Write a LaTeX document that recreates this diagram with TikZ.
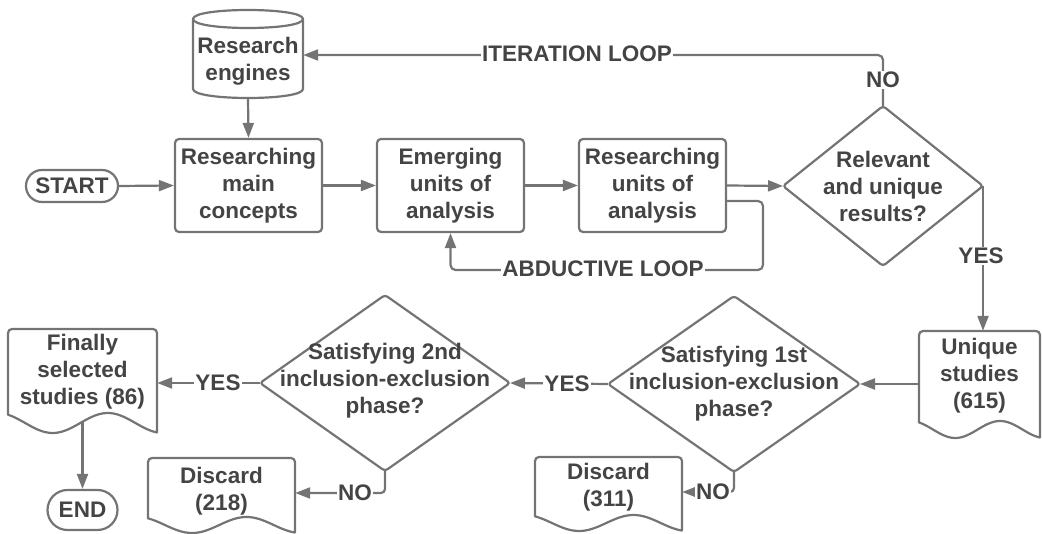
\documentclass[tikz,border=0pt]{standalone}
\usepackage{fontspec}
\setmainfont{Liberation Sans}
\usetikzlibrary{arrows.meta,shapes.misc}
\definecolor{ln}{HTML}{747474}
\definecolor{tx}{HTML}{444444}
\tikzset{
 every node/.style={font=\bfseries\fontsize{22.5}{27}\selectfont, text=tx, align=center},
 shp/.style={draw=ln, line width=2.2pt, line join=round},
 box/.style={shp, rounded corners=4pt, minimum width=147pt, minimum height=93pt, inner sep=0pt},
 term/.style={shp, rounded rectangle, inner sep=0pt},
 arr/.style={draw=ln, line width=2.2pt, -{Triangle[length=15pt,width=11pt]}},
 lab/.style={fill=white, inner sep=1pt},
 txt/.style={inner sep=0pt}
}
\newcommand\docshape[5]{\draw[shp] (#1,{#4-0.828*#5}) [rounded corners=4pt] -- (#1,#3) -- (#2,#3) [sharp corners] -- (#2,{#4+0.943*#5}) -- plot[domain=1:0,samples=60] ({#1+\x*(#2-#1)},{#4+#5*sin(360*(\x-0.3)/0.74+90)}) -- cycle;}
\begin{document}
\begin{tikzpicture}[x=1pt,y=-1pt]
\useasboundingbox (0,0) rectangle (1042,534);

% cylinder
\draw[shp] (193,19) .. controls (193,7) and (303,7) .. (303,19) .. controls (303,31) and (193,31) .. (193,19) -- cycle;
\draw[shp] (193,19) -- (193,89) .. controls (193,101) and (303,101) .. (303,89) -- (303,19);
\node[txt, minimum width=110pt, minimum height=74pt] (eng) at (248,61) {Research\\engines};

% terminals and boxes
\node[term, minimum width=92pt, minimum height=32pt] (start) at (72,186) {START};
\node[box] (rmc) at (248.5,185.5) {Researching\\main\\concepts};
\node[box] (eua) at (450.5,185.5) {Emerging\\units of\\analysis};
\node[box] (rua) at (652.5,185.5) {Researching\\units of\\analysis};
\node[term, minimum width=70pt, minimum height=40pt] (end) at (82.5,510) {END};

% diamonds
\coordinate (d0n) at (883,106); \coordinate (d0e) at (983,186);
\coordinate (d0s) at (883,266); \coordinate (d0w) at (783,186);
\draw[shp, rounded corners=3pt] (d0n) -- (d0e) -- (d0s) -- (d0w) -- cycle;
\node[txt] (d0t) at (883,186) {Relevant\\and unique\\results?};

\coordinate (d1n) at (734,296); \coordinate (d1e) at (860,384);
\coordinate (d1s) at (734,472); \coordinate (d1w) at (608,384);
\draw[shp, rounded corners=3pt] (d1n) -- (d1e) -- (d1s) -- (d1w) -- cycle;
\node[txt] (d1t) at (734,384) {Satisfying 1st\\inclusion-exclusion\\phase?};

\coordinate (d2n) at (385,295); \coordinate (d2e) at (510,383);
\coordinate (d2s) at (385,471); \coordinate (d2w) at (260,383);
\draw[shp, rounded corners=3pt] (d2n) -- (d2e) -- (d2s) -- (d2w) -- cycle;
\node[txt] (d2t) at (385,381) {Satisfying 2nd\\inclusion-exclusion\\phase?};

% documents
\docshape{919}{1040}{331}{429.5}{8.5}
\node[txt, minimum width=121pt, minimum height=90pt] (us) at (979.5,376) {Unique\\studies\\(615)};
\docshape{8}{157}{329}{423}{10}
\node[txt, minimum width=149pt, minimum height=100pt] (fss) at (82.5,372) {Finally\\selected\\studies (86)};
\docshape{148}{295}{458}{525}{8}
\node[txt, minimum width=147pt, minimum height=50pt] (dis2) at (221.5,491) {Discard\\(218)};
\docshape{535}{682}{457}{523}{8}
\node[txt, minimum width=147pt, minimum height=50pt] (dis1) at (608.5,487) {Discard\\(311)};

% helper coordinates
\coordinate (it) at (883,55);
\coordinate (ab1) at (763,201);
\coordinate (ab2) at (763,270);
\coordinate (no1) at (734,492);
\coordinate (no2) at (385,493);

% connectors
\draw[arr] (eng.south) -- (rmc.north);
\draw[arr] (start.east) -- (rmc.west);
\draw[arr] (rmc.east) -- (eua.west);
\draw[arr] (eua.east) -- (rua.west);
\draw[arr] (rua.east) -- (d0w);
\draw[arr, rounded corners=5pt] (rua.east |- ab1) -- (ab1) -- (ab2) -| (eua.south);
\draw[arr, rounded corners=5pt] (d0n) -- (it) -- (it -| eng.east);
\draw[arr] (d0e) -- (d0e |- us.north);
\draw[arr] (us.west |- d1e) -- (d1e);
\draw[arr] (d1w) -- (d2e);
\draw[arr] (d2w) -- (d2w -| fss.east);
\draw[arr, rounded corners=4pt] (d2s) -- (no2) -- (no2 -| dis2.east);
\draw[arr, rounded corners=4pt] (d1s) -- (no1) -- (no1 -| dis1.east);
\draw[arr] (fss.south) -- (end.north);

% labels
\node[lab] (labit) at (577,54) {ITERATION LOOP};
\node[lab] (labno0) at (883,80) {NO};
\node[lab] (labyes0) at (981,256) {YES};
\node[lab] (labab) at (603,269) {ABDUCTIVE LOOP};
\node[lab] (labyes1) at (567,384) {YES};
\node[lab] (labyes2) at (218,383) {YES};
\node[lab] (labno2) at (355,493) {NO};
\node[lab] (labno1) at (713,492) {NO};
\end{tikzpicture}
\end{document}
